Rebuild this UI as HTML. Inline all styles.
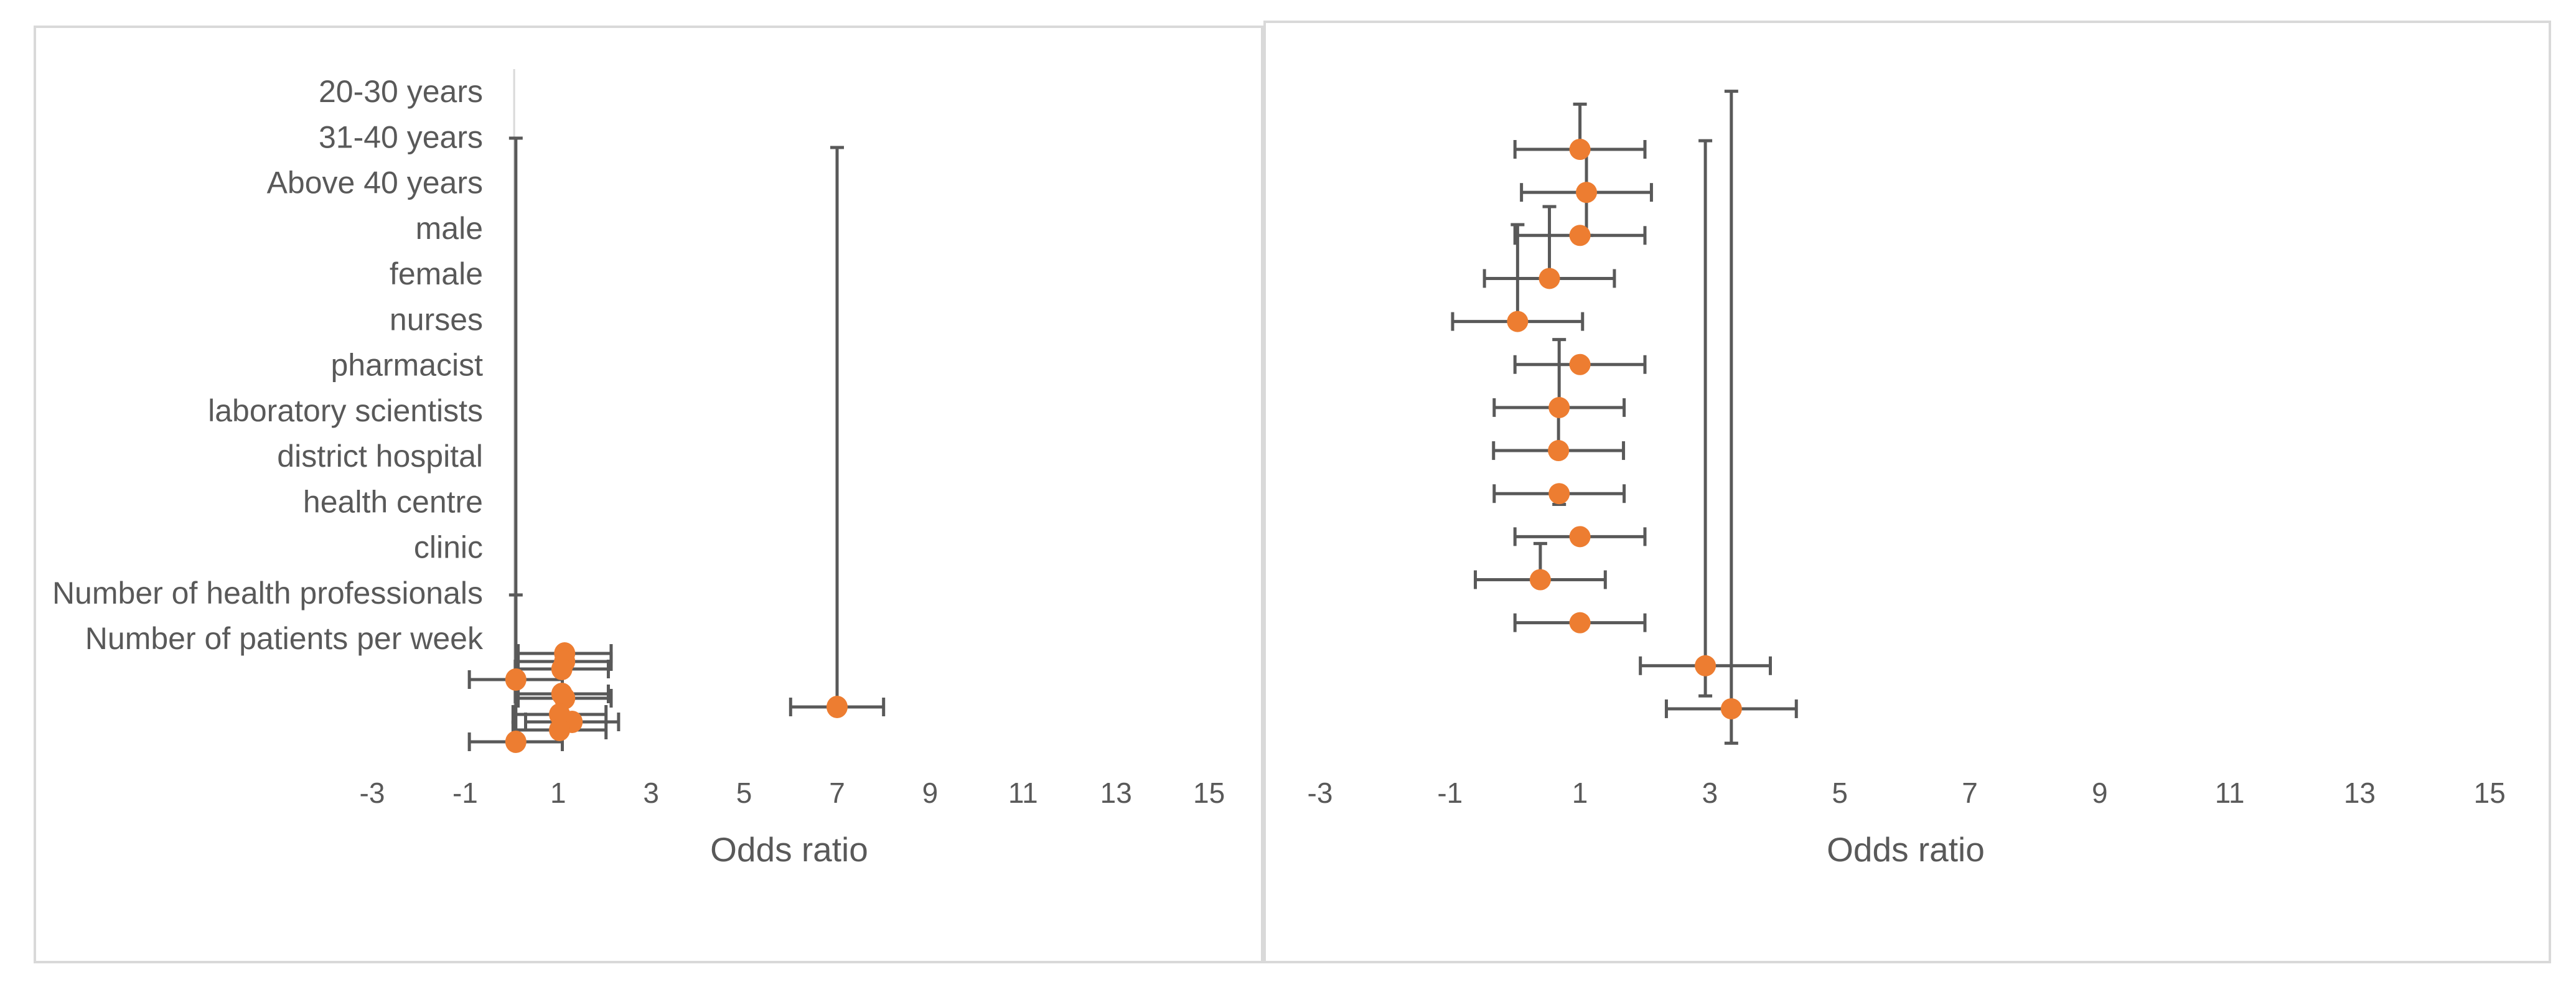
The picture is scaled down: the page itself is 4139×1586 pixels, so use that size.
<!DOCTYPE html>
<html><head><meta charset="utf-8"><style>
html,body{margin:0;padding:0;background:#fff;}
svg{display:block;}
text{font-family:"Liberation Sans",sans-serif;fill:#595959;}
</style></head><body>
<svg id="s" width="4139" height="1586" viewBox="0 0 4139 1586" xmlns="http://www.w3.org/2000/svg">
<rect x="56" y="43" width="1972" height="1503" fill="#fff" stroke="#d9d9d9" stroke-width="4"/>
<rect x="2032" y="35" width="2065" height="1511" fill="#fff" stroke="#d9d9d9" stroke-width="4"/>
<g id="left"></g>
<g id="right"></g>
</svg>
<script>
const ticks = [-3,-1,1,3,5,7,9,11,13,15];
const categories = ["20-30 years","31-40 years","Above 40 years","male","female","nurses","pharmacist","laboratory scientists","district hospital","health centre","clinic","Number of health professionals","Number of patients per week"];
// left chart data
const leftOR = [1.14,1.14,1.08,0.09,1.08,1.14,1.03,1.30,1.03,0.09,7.0];
const leftRow = [0,1.3,2.5,4.2,6.5,7.2,9.8,11.0,12.3,14.2,8.6];
const leftErrX = [1,1,1,1,1,1,1,1,1,1,1];
const leftErrUp = [0,0,0,87,0,0,0,0,0,23.6,89.9];
const leftErrDown = [0,0,0,0,0,0,0,0,0,0,0];
// right chart data
const rightOR = [1.0,1.1,1.0,0.53,0.04,1.0,0.68,0.67,0.68,1.0,0.39,1.0,2.93,3.33];
const rightErrX = [1,1,1,1,1,1,1,1,1,1,1,1,1,1];
const rightErrUp = [1.05,1,0,1.67,2.25,0,1.58,1,0,0,0.84,0,12.2,14.35];
const rightErrDown = [0,1,0,0.1,0,0,0,0,0.25,0,0,0,0.7,0.8];

const NS="http://www.w3.org/2000/svg";
function mk(parent,tag,attrs){const e=document.createElementNS(NS,tag);for(const k in attrs)e.setAttribute(k,attrs[k]);parent.appendChild(e);return e;}
const xL=v=>598+(v+3)*74.7;
const yL=r=>1050+r*10;
const xR=v=>2121+(v+3)*104.4;
const yR=r=>240+r*69.15;
const EC="#595959", OR="#ED7D31";

function drawTicks(g,xf,cx){
  ticks.forEach(t=>{
    const e=mk(g,'text',{x:xf(t),y:1290,'text-anchor':'middle','font-size':46});
    e.textContent=t;
    
    
  });
  const a=mk(g,'text',{x:cx,y:1384,'text-anchor':'middle','font-size':55});
  a.textContent="Odds ratio";
  
  
}
function drawSeries(g,xs,ys,xf,yf,ex,eu,ed,cap,rx,ry,rowUnit){
  xs.forEach((v,i)=>{
    const x=xf(v), y=yf(ys[i]);
    const eg=mk(g,'g',{stroke:EC,'stroke-width':5,fill:'none'});
    
    
    const x1=xf(v-ex[i]), x2=xf(v+ex[i]);
    mk(eg,'line',{x1:x1,y1:y,x2:x2,y2:y});
    mk(eg,'line',{x1:x1,y1:y-cap,x2:x1,y2:y+cap});
    mk(eg,'line',{x1:x2,y1:y-cap,x2:x2,y2:y+cap});
    if(eu[i]>0||ed[i]>0){
      const yt=y-eu[i]*rowUnit, yb=y+ed[i]*rowUnit;
      mk(eg,'line',{x1:x,y1:yt,x2:x,y2:yb});
      if(eu[i]>0) mk(eg,'line',{x1:x-11,y1:yt,x2:x+11,y2:yt});
      if(ed[i]>0) mk(eg,'line',{x1:x-11,y1:yb,x2:x+11,y2:yb});
    }
  });
  xs.forEach((v,i)=>{
    const m=mk(g,'ellipse',{cx:xf(v),cy:yf(ys[i]),rx:rx,ry:ry,fill:OR});
    
    
  });
}
const L=document.getElementById('left'), R=document.getElementById('right');
const ax=mk(L,'line',{x1:xL(0)+4,y1:111,x2:xL(0)+4,y2:1210,stroke:'#d9d9d9','stroke-width':3});


categories.forEach((c,i)=>{
  const e=mk(L,'text',{x:776,y:147+i*73.25+17,'text-anchor':'end','font-size':50});
  e.textContent=c;
  
  
});
drawTicks(L,xL,1268);
drawSeries(L,leftOR,leftRow,xL,yL,leftErrX,leftErrUp,leftErrDown,15,17,18,10);
drawTicks(R,xR,3062);
drawSeries(R,rightOR,rightOR.map((_,i)=>i),xR,yR,rightErrX,rightErrUp,rightErrDown,15,17,17,69.15);
</script>
</body></html>
